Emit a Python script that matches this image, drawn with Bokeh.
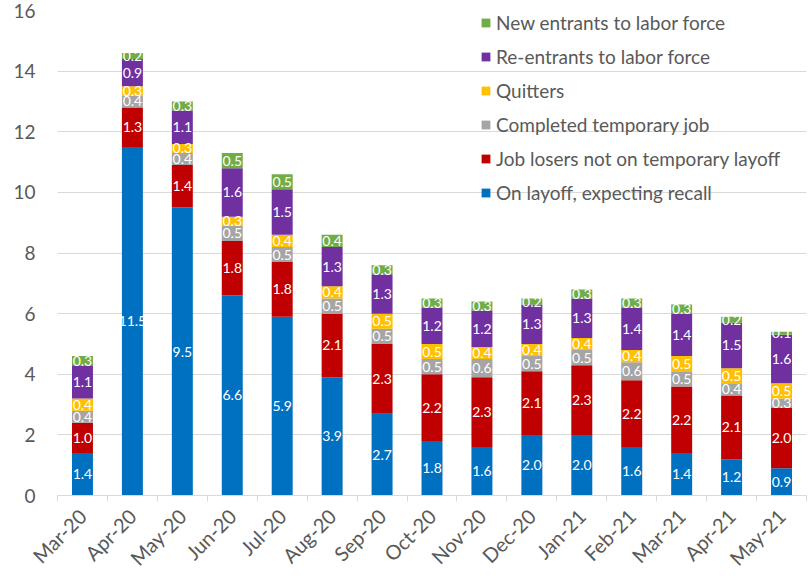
from math import pi
import numpy as np
from bokeh.plotting import figure
from bokeh.models import (ColumnDataSource, LabelSet, Legend, LegendItem, LinearAxis,
                          Range1d, FixedTicker)
from bokeh.core.properties import value
from bokeh.embed import file_html
from bokeh.resources import INLINE

months = ["Mar-20", "Apr-20", "May-20", "Jun-20", "Jul-20", "Aug-20", "Sep-20", "Oct-20",
          "Nov-20", "Dec-20", "Jan-21", "Feb-21", "Mar-21", "Apr-21", "May-21"]
on_layoff = [1.4, 11.5, 9.5, 6.6, 5.9, 3.9, 2.7, 1.8, 1.6, 2.0, 2.0, 1.6, 1.4, 1.2, 0.9]
job_losers = [1.0, 1.3, 1.4, 1.8, 1.8, 2.1, 2.3, 2.2, 2.3, 2.1, 2.3, 2.2, 2.2, 2.1, 2.0]
completed_temp = [0.4, 0.4, 0.4, 0.5, 0.5, 0.5, 0.5, 0.5, 0.6, 0.5, 0.5, 0.6, 0.5, 0.4, 0.3]
quitters = [0.4, 0.3, 0.3, 0.3, 0.4, 0.4, 0.5, 0.5, 0.4, 0.4, 0.4, 0.4, 0.5, 0.5, 0.5]
re_entrants = [1.1, 0.9, 1.1, 1.6, 1.5, 1.3, 1.3, 1.2, 1.2, 1.3, 1.3, 1.4, 1.4, 1.5, 1.6]
new_entrants = [0.3, 0.2, 0.3, 0.5, 0.5, 0.4, 0.3, 0.3, 0.3, 0.2, 0.3, 0.3, 0.3, 0.2, 0.1]

series_names = ["On layoff, expecting recall", "Job losers not on temporary layoff",
                "Completed temporary job", "Quitters", "Re-entrants to labor force",
                "New entrants to labor force"]
series_values = [on_layoff, job_losers, completed_temp, quitters, re_entrants, new_entrants]
colors = ["#0070C0", "#C00000", "#A5A5A5", "#FFC000", "#7030A0", "#70AD47"]
y_ticks = [0, 2, 4, 6, 8, 10, 12, 14, 16]

FONT = "Lato"
TXT = "#595959"

n = len(months)
idx = list(range(n))
keys = ["s%d" % i for i in range(len(series_values))]
data = {"x": idx}
for k, v in zip(keys, series_values):
    data[k] = v
src = ColumnDataSource(data)

p = figure(x_range=Range1d(-0.5, n - 0.5), y_range=Range1d(0, 16),
           frame_width=749, frame_height=485,
           min_border_left=57, min_border_right=3, min_border_top=10, min_border_bottom=87,
           output_backend="svg", toolbar_location=None, x_axis_location=None)
p.outline_line_color = None
p.xgrid.grid_line_color = None
p.ygrid.grid_line_color = "#D9D9D9"
p.ygrid.ticker = FixedTicker(ticks=y_ticks)

yax = p.yaxis[0]
yax.ticker = FixedTicker(ticks=y_ticks)
yax.axis_line_color = None
yax.major_tick_line_color = None
yax.minor_tick_line_color = None
yax.major_label_text_font = FONT
yax.major_label_text_font_size = "19px"
yax.major_label_text_color = TXT
yax.major_label_standoff = 16

renderers = p.vbar_stack(keys, x="x", width=0.42, color=colors, line_color=None, source=src)

# data labels
lx, ly, lt = [], [], []
cum = np.zeros(n)
for vals in series_values:
    v = np.array(vals)
    mids = cum + v / 2
    for i, y, val in zip(idx, mids, vals):
        lx.append(i)
        ly.append(float(y))
        lt.append("%.1f" % val)
    cum = cum + v
lsrc = ColumnDataSource(dict(x=lx, y=ly, t=lt))
p.add_layout(LabelSet(x="x", y="y", text="t", source=lsrc, text_color="white",
                      text_font=value(FONT), text_font_size="14px", text_align="center",
                      text_baseline="middle"))

# tick marks at category boundaries
bounds = [i - 0.5 for i in range(n + 1)]
tick_axis = LinearAxis(ticker=FixedTicker(ticks=bounds),
                       major_label_overrides={b: "" for b in bounds},
                       axis_line_color="#D9D9D9", major_tick_line_color="#D9D9D9",
                       major_tick_in=0, major_tick_out=6, minor_tick_line_color=None,
                       major_label_text_font_size="10px", major_label_standoff=0)
p.add_layout(tick_axis, "below")

cat_axis = LinearAxis(ticker=FixedTicker(ticks=idx),
                      major_label_overrides={i: m for i, m in zip(idx, months)},
                      axis_line_color=None, major_tick_line_color=None,
                      minor_tick_line_color=None,
                      major_label_orientation=pi / 4, major_label_text_font=FONT,
                      major_label_text_font_size="20px", major_label_text_color=TXT,
                      major_label_standoff=5)
p.add_layout(cat_axis, "below")

items = [LegendItem(label=nm, renderers=[r]) for nm, r in zip(series_names, renderers)][::-1]
legend = Legend(items=items, location=(423, 291), margin=0, padding=0,
                border_line_color=None, background_fill_alpha=0,
                label_text_font=FONT, label_text_font_size="19px", label_text_color=TXT,
                glyph_width=11, glyph_height=11, label_height=22, spacing=11,
                label_standoff=5)
p.add_layout(legend)

open("out.html", "w").write(file_html(p, INLINE))
